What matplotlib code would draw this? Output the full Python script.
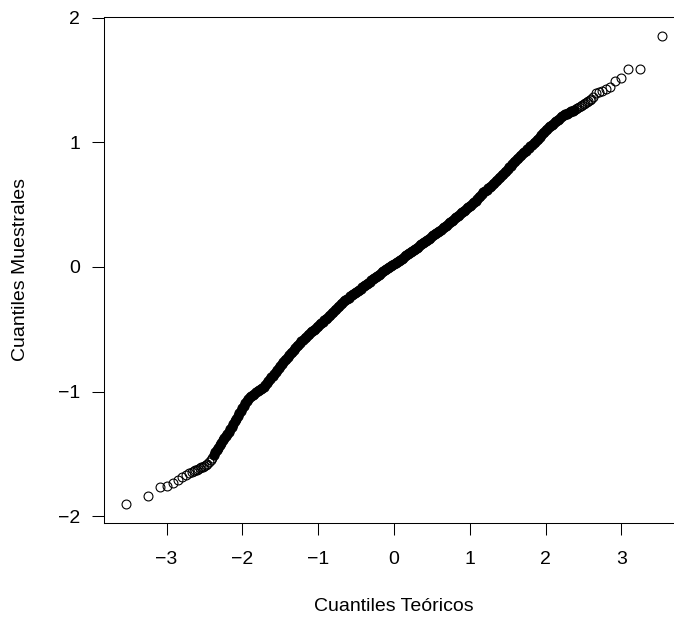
import numpy as np
import matplotlib
matplotlib.use("Agg")
import matplotlib.pyplot as plt
from statistics import NormalDist

plt.rcParams['font.family'] = ['Liberation Sans', 'DejaVu Sans']

# QQ plot of n_obs observations; tails read point by point, middle band read along its centre
n_obs = 2500

low_ranks = [1, 2, 3, 4, 5, 6, 7, 8, 9, 10]
low_sample = [-1.900, -1.840, -1.766, -1.755, -1.734, -1.707, -1.686, -1.665, -1.649, -1.640]

high_ranks = [2491, 2492, 2493, 2494, 2495, 2496, 2497, 2498, 2499, 2500]
high_sample = [1.395, 1.405, 1.415, 1.430, 1.447, 1.490, 1.515, 1.590, 1.588, 1.855]

mid_theoretical = np.round(np.arange(-2.64, 2.621, 0.02), 2)
mid_sample = [
    -1.635, -1.630, -1.625, -1.619, -1.613, -1.607, -1.601, -1.595, -1.587, -1.579,
    -1.567, -1.551, -1.535, -1.511, -1.487, -1.466, -1.448, -1.430, -1.410, -1.390,
    -1.372, -1.356, -1.340, -1.320, -1.300, -1.279, -1.257, -1.235, -1.215, -1.195,
    -1.174, -1.152, -1.130, -1.112, -1.094, -1.077, -1.061, -1.045, -1.035, -1.025,
    -1.015, -1.005, -0.995, -0.987, -0.979, -0.970, -0.960, -0.950, -0.934, -0.918,
    -0.902, -0.886, -0.870, -0.854, -0.838, -0.822, -0.806, -0.790, -0.776, -0.762,
    -0.748, -0.734, -0.720, -0.706, -0.692, -0.678, -0.664, -0.650, -0.636, -0.622,
    -0.609, -0.597, -0.585, -0.573, -0.561, -0.549, -0.537, -0.525, -0.515, -0.505,
    -0.494, -0.482, -0.470, -0.460, -0.450, -0.439, -0.427, -0.415, -0.405, -0.395,
    -0.384, -0.372, -0.360, -0.348, -0.336, -0.324, -0.312, -0.300, -0.287, -0.274,
    -0.263, -0.254, -0.245, -0.236, -0.227, -0.218, -0.209, -0.200, -0.191, -0.182,
    -0.173, -0.164, -0.155, -0.146, -0.137, -0.127, -0.118, -0.108, -0.099, -0.090,
    -0.081, -0.071, -0.062, -0.053, -0.044, -0.035, -0.026, -0.017, -0.008, 0.001,
    0.009, 0.016, 0.022, 0.031, 0.040, 0.049, 0.058, 0.067, 0.076, 0.085,
    0.094, 0.103, 0.112, 0.121, 0.130, 0.139, 0.147, 0.155, 0.164, 0.173,
    0.182, 0.191, 0.200, 0.209, 0.218, 0.227, 0.236, 0.245, 0.254, 0.263,
    0.272, 0.281, 0.290, 0.300, 0.310, 0.320, 0.330, 0.340, 0.350, 0.360,
    0.370, 0.380, 0.390, 0.400, 0.410, 0.420, 0.430, 0.440, 0.450, 0.460,
    0.470, 0.480, 0.490, 0.500, 0.510, 0.521, 0.533, 0.545, 0.559, 0.573,
    0.586, 0.598, 0.610, 0.620, 0.630, 0.641, 0.653, 0.665, 0.677, 0.689,
    0.701, 0.713, 0.725, 0.737, 0.749, 0.761, 0.773, 0.785, 0.799, 0.813,
    0.826, 0.838, 0.850, 0.862, 0.874, 0.886, 0.898, 0.910, 0.922, 0.934,
    0.946, 0.958, 0.970, 0.982, 0.994, 1.006, 1.018, 1.030, 1.044, 1.058,
    1.071, 1.083, 1.095, 1.107, 1.119, 1.130, 1.140, 1.150, 1.160, 1.170,
    1.180, 1.190, 1.200, 1.208, 1.216, 1.223, 1.229, 1.235, 1.241, 1.247,
    1.253, 1.259, 1.265, 1.273, 1.281, 1.289, 1.297, 1.305, 1.313, 1.321,
    1.329, 1.337, 1.345, 1.360,
]

x_ticks = [-3, -2, -1, 0, 1, 2, 3]
y_ticks = [-2, -1, 0, 1, 2]

norm = NormalDist()
low_theoretical = [norm.inv_cdf((r - 0.5) / n_obs) for r in low_ranks]
high_theoretical = [norm.inv_cdf((r - 0.5) / n_obs) for r in high_ranks]

theoretical = np.concatenate([low_theoretical, mid_theoretical, high_theoretical])
sample = np.concatenate([low_sample, mid_sample, high_sample])

fig = plt.figure(figsize=(6.74, 6.18), dpi=100)
W, H = 674, 618
# plot region in pixels (right edge runs just past the picture, as in the reference)
left_px, right_px, top_px, bottom_px = 104.1, 683.9, 16.9, 522.7
ax = fig.add_axes([left_px / W, (H - bottom_px) / H,
                   (right_px - left_px) / W, (bottom_px - top_px) / H])

# where the real points pile up the open circles merge into a solid band
dense = np.abs(theoretical) < 2.4
ax.plot(theoretical[dense], sample[dense], 'o', mfc='black', mec='black',
        ms=6.6, mew=0.8)
ax.plot(theoretical[~dense], sample[~dense], 'o', mfc='none', mec='black',
        ms=6.4, mew=0.8)

# R style 4% padding
xr = max(abs(theoretical.min()), abs(theoretical.max()))
ax.set_xlim(-xr * 1.08, xr * 1.08)
ymin, ymax = sample.min(), sample.max()
pad = (ymax - ymin) * 0.04
ax.set_ylim(ymin - pad, ymax + pad)

ax.set_xticks(x_ticks)
ax.set_yticks(y_ticks)
ax.tick_params(axis='both', direction='out', length=8.6, width=0.75,
               colors='black', labelsize=14)
ax.tick_params(axis='x', pad=11.5)
ax.tick_params(axis='y', pad=8.5)
for s in ax.spines.values():
    s.set_linewidth(0.75)

ax.set_xlabel("Cuantiles Teóricos", fontsize=14)
ax.set_ylabel("Cuantiles Muestrales", fontsize=14)
ax.xaxis.set_label_coords(0.5, -0.149)
ax.yaxis.set_label_coords(-0.130, 0.5)

fig.savefig("out.png", dpi=100)
